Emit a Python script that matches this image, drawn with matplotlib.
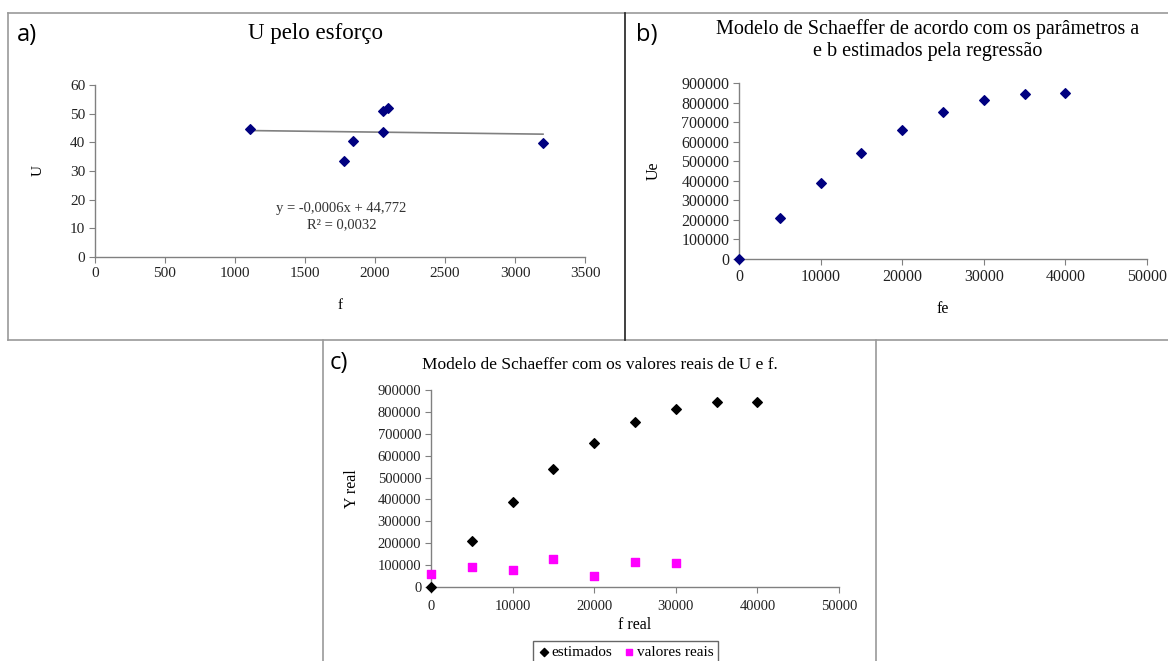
import matplotlib
matplotlib.use("Agg")
import matplotlib.pyplot as plt
from matplotlib.lines import Line2D

# panel a) U pelo esforço
f_obs = [1110, 1775, 1840, 2055, 2060, 2090, 3200]
u_obs = [44.5, 33.5, 40.4, 43.5, 51.0, 52.0, 39.7]
trend_slope = -0.0006
trend_icpt = 44.772

# panel b) / c) Schaeffer model
fe = [0, 5000, 10000, 15000, 20000, 25000, 30000, 35000, 40000]
ue = [0, 210000, 388000, 540000, 660000, 752000, 812000, 843000, 847000]

# panel c) real values
f_real = [0, 5000, 10000, 15000, 20000, 25000, 30000]
y_real = [60000, 92000, 77000, 130000, 50000, 112000, 108000]

W, H = 1168, 661
plt.rcParams['font.family'] = ['Liberation Serif', 'DejaVu Serif']
fig = plt.figure(figsize=(W / 100, H / 100), dpi=100)


def px_axes(x0, y0, x1, y1):
    # pixel box (top-left origin) -> figure axes
    return fig.add_axes([x0 / W, 1 - y1 / H, (x1 - x0) / W, (y1 - y0) / H])


def fig_line(xs, ys, color, lw=1.2):
    fig.add_artist(Line2D([x / W for x in xs], [1 - y / H for y in ys],
                          transform=fig.transFigure, color=color, lw=lw))


def style(ax, fs=10):
    for s in ['top', 'right']:
        ax.spines[s].set_visible(False)
    for s in ['left', 'bottom']:
        ax.spines[s].set_color('#808080')
        ax.spines[s].set_linewidth(1.0)
    ax.tick_params(direction='out', length=4, color='#808080', labelsize=fs, pad=3,
                   labelcolor='#222222')


# panel borders
fig_line([8, 8], [340, 13], '#9a9a9a')
fig_line([8, 1168], [13, 13], '#9a9a9a')
fig_line([8, 1168], [340, 340], '#9a9a9a')
fig_line([625, 625], [13, 340], '#202020')
fig_line([323, 323], [340, 661], '#9a9a9a')
fig_line([876, 876], [340, 661], '#9a9a9a')

# a)
ax1 = px_axes(95, 85, 585, 257)
style(ax1, 11)
ax1.scatter(f_obs, u_obs, marker='D', s=24, color='#000080', zorder=3)
xs = [min(f_obs), max(f_obs)]
ax1.plot(xs, [trend_icpt + trend_slope * x for x in xs], color='#808080', lw=1.2)
ax1.set_xlim(0, 3500)
ax1.set_ylim(0, 60)
ax1.set_xticks(range(0, 3501, 500))
ax1.set_yticks(range(0, 61, 10))
ax1.set_xlabel('f', fontsize=11, labelpad=14)
ax1.yaxis.set_label_coords(-(95 - 38) / 490, 0.5)
ax1.set_ylabel('U', fontsize=11, va='center')
ax1.text(1760, 14.2, 'y = -0,0006x + 44,772\nR² = 0,0032', ha='center', va='center',
         fontsize=10.5, linespacing=1.3, color='#333333')
fig.text(315 / W, 1 - 34 / H, 'U pelo esforço', ha='center', va='center', fontsize=16.5)
fig.text(17 / W, 1 - 35 / H, 'a)', ha='left', va='center', fontsize=17,
         family=['Open Sans', 'DejaVu Sans'])

# b)
ax2 = px_axes(739, 83, 1147, 259)
style(ax2, 11.5)
ax2.scatter(fe, ue, marker='D', s=24, color='#000080', zorder=3, clip_on=False)
ax2.set_xlim(0, 50000)
ax2.set_ylim(0, 900000)
ax2.set_xticks(range(0, 50001, 10000))
ax2.set_yticks(range(0, 900001, 100000))
ax2.set_xlabel('fe', fontsize=11.5, labelpad=12)
ax2.yaxis.set_label_coords(-(739 - 654) / 408, 0.5)
ax2.set_ylabel('Ue', fontsize=11.5, va='center')
fig.text(928 / W, 1 - 40 / H, 'Modelo de Schaeffer de acordo com os parâmetros a\ne b estimados pela regressão',
         ha='center', va='center', fontsize=14.5, linespacing=1.25)
fig.text(636 / W, 1 - 35 / H, 'b)', ha='left', va='center', fontsize=17,
         family=['Open Sans', 'DejaVu Sans'])

# c)
ax3 = px_axes(431, 390, 839, 587)
style(ax3, 10.5)
ax3.scatter(fe, ue, marker='D', s=24, color='black', zorder=3, clip_on=False, label='estimados')
ax3.scatter(f_real, y_real, marker='s', s=34, color='#FF00FF', zorder=3, clip_on=False,
            label='valores reais')
ax3.set_xlim(0, 50000)
ax3.set_ylim(0, 900000)
ax3.set_xticks(range(0, 50001, 10000))
ax3.set_yticks(range(0, 900001, 100000))
ax3.tick_params(axis='x', pad=5)
ax3.set_xlabel('f real', fontsize=11.5, labelpad=3)
ax3.yaxis.set_label_coords(-(431 - 352) / 408, 0.375)
ax3.set_ylabel('Y real', fontsize=11.5, va='center')
fig.text(600 / W, 1 - 365 / H, 'Modelo de Schaeffer com os valores reais de U e f.',
         ha='center', va='center', fontsize=12.5)
fig.text(330 / W, 1 - 363 / H, 'c)', ha='left', va='center', fontsize=17,
         family=['Open Sans', 'DejaVu Sans'])
handles, labels = ax3.get_legend_handles_labels()
leg = fig.legend(handles=handles, labels=labels,
                 loc='upper left', bbox_to_anchor=(533 / W, 1 - 641 / H), ncol=2,
                 fontsize=11, frameon=True, fancybox=False, handletextpad=0.1,
                 columnspacing=0.7, borderpad=0.3, borderaxespad=0, markerscale=0.85,
                 handlelength=0.8)
leg.get_frame().set_edgecolor('#404040')
leg.get_frame().set_linewidth(1.0)

fig.savefig('out.png', dpi=100)
